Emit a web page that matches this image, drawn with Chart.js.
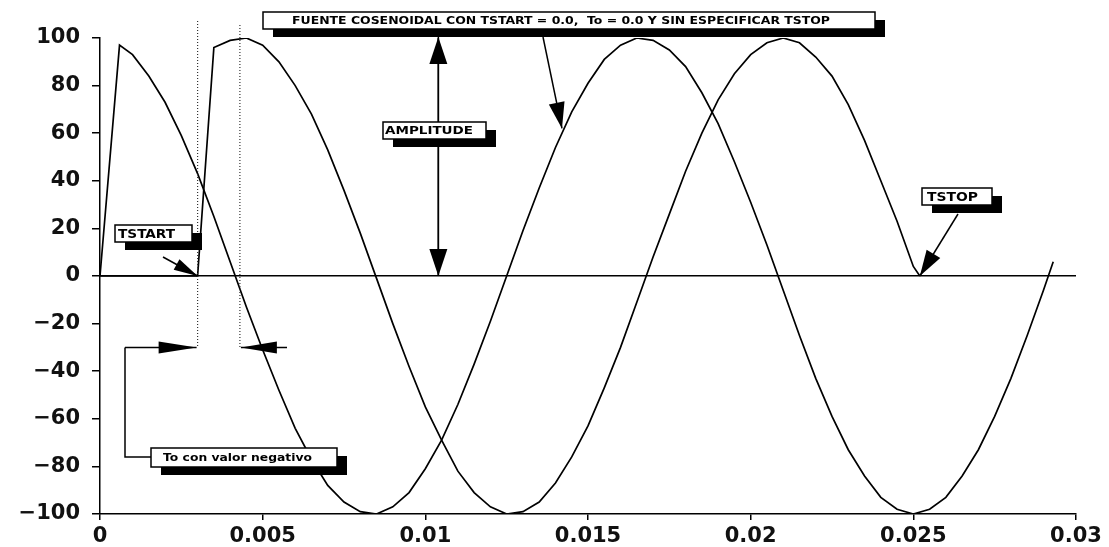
<!DOCTYPE html>
<html>
<head>
<meta charset="utf-8">
<script src="https://cdn.jsdelivr.net/npm/chart.js@4/dist/chart.umd.min.js"></script>
<style>
  html, body { margin: 0; padding: 0; background: #fff; }
  #wrap { width: 1109px; height: 547px; position: relative; }
</style>
</head>
<body>
<div id="wrap"><canvas id="chart"></canvas></div>
<script>
// tick marks
var xTicks = [0, 0.005, 0.01, 0.015, 0.02, 0.025, 0.03];
var xLabels = ['0', '0.005', '0.01', '0.015', '0.02', '0.025', '0.03'];
var yTicks = [-100, -80, -60, -40, -20, 0, 20, 40, 60, 80, 100];
var yLabels = ['\u2212100', '\u221280', '\u221260', '\u221240', '\u221220', '0', '20', '40', '60', '80', '100'];

// source 1: TSTART = 0, To = 0
var t1 = [0, 0.0006, 0.001, 0.0015, 0.002, 0.0025, 0.003, 0.0035, 0.004, 0.0045, 0.005, 0.0055, 0.006, 0.0065,
  0.007, 0.0075, 0.008, 0.0085, 0.009, 0.0095, 0.01, 0.0105, 0.011, 0.0115, 0.012, 0.0125, 0.013, 0.0135,
  0.014, 0.0145, 0.015, 0.0155, 0.016, 0.0165, 0.017, 0.0175, 0.018, 0.0185, 0.019, 0.0195, 0.02, 0.0205,
  0.021, 0.0215, 0.022, 0.0225, 0.023, 0.0235, 0.024, 0.0245, 0.025, 0.0255, 0.026, 0.0265, 0.027, 0.0275,
  0.028, 0.0285, 0.029, 0.0293];
var v1 = [0, 97, 93, 84, 73, 59, 43, 25, 6, -13, -31, -48, -64, -77, -88, -95, -99, -100, -97, -91, -81, -69,
  -54, -37, -19, 0, 19, 37, 54, 69, 81, 91, 97, 100, 99, 95, 88, 77, 64, 48, 31, 13, -6, -25, -43, -59, -73,
  -84, -93, -98, -100, -98, -93, -84, -73, -59, -43, -25, -6, 6];

// source 2: TSTART, negative To, TSTOP
var t2 = [0, 0.003, 0.0035, 0.004, 0.0045, 0.005, 0.0055, 0.006, 0.0065, 0.007, 0.0075, 0.008, 0.0085, 0.009,
  0.0095, 0.01, 0.0105, 0.011, 0.0115, 0.012, 0.0125, 0.013, 0.0135, 0.014, 0.0145, 0.015, 0.0155, 0.016,
  0.0165, 0.017, 0.0175, 0.018, 0.0185, 0.019, 0.0195, 0.02, 0.0205, 0.021, 0.0215, 0.022, 0.0225, 0.023,
  0.0235, 0.024, 0.0245, 0.025, 0.0252];
var v2 = [0, 0, 96, 99, 100, 97, 90, 80, 68, 53, 36, 18, -1, -20, -38, -55, -69, -82, -91, -97, -100, -99, -95,
  -87, -76, -63, -47, -30, -11, 8, 26, 44, 60, 74, 85, 93, 98, 100, 98, 92, 84, 72, 57, 40, 23, 4, 0];

function pts(ts, vs) {
  return ts.map(function(t, i) { return { x: t, y: vs[i] }; });
}

// white label box with black drop shadow, text stretched to tw pixels
function box(ctx, x, y, w, h, text, font, tx, tw) {
  ctx.fillStyle = '#000';
  ctx.fillRect(x + 10, y + 8, w, h);
  ctx.fillStyle = '#fff';
  ctx.fillRect(x, y, w, h);
  ctx.strokeStyle = '#000';
  ctx.lineWidth = 1.5;
  ctx.strokeRect(x, y, w, h);
  ctx.fillStyle = '#000';
  ctx.font = font;
  ctx.textBaseline = 'middle';
  ctx.textAlign = 'left';
  var mw = ctx.measureText(text).width;
  ctx.save();
  ctx.translate(x + tx, y + h / 2 + 1);
  ctx.scale(tw / mw, 1);
  ctx.fillText(text, 0, 0);
  ctx.restore();
}

function arrow(ctx, x0, y0, x1, y1, len, half) {
  var a = Math.atan2(y1 - y0, x1 - x0);
  ctx.strokeStyle = '#000';
  ctx.lineWidth = 1.5;
  ctx.beginPath();
  ctx.moveTo(x0, y0);
  ctx.lineTo(x1, y1);
  ctx.stroke();
  var bx = x1 - len * Math.cos(a), by = y1 - len * Math.sin(a);
  ctx.fillStyle = '#000';
  ctx.beginPath();
  ctx.moveTo(x1, y1);
  ctx.lineTo(bx + half * Math.sin(a), by - half * Math.cos(a));
  ctx.lineTo(bx - half * Math.sin(a), by + half * Math.cos(a));
  ctx.closePath();
  ctx.fill();
}

var notes = {
  id: 'notes',
  afterDatasetsDraw: function(chart) {
    var ctx = chart.ctx;
    var sx = chart.scales.x, sy = chart.scales.y;
    ctx.save();

    // dotted markers for TSTART and To
    ctx.strokeStyle = '#333';
    ctx.lineWidth = 1.2;
    ctx.setLineDash([1, 2]);
    [0.003, 0.0043].forEach(function(v, i) {
      var x = sx.getPixelForValue(v);
      ctx.beginPath();
      ctx.moveTo(x, i ? 25 : 21);
      ctx.lineTo(x, sy.getPixelForValue(-30));
      ctx.stroke();
    });
    ctx.setLineDash([]);

    // amplitude double arrow
    var ax = sx.getPixelForValue(0.0104);
    arrow(ctx, ax, sy.getPixelForValue(0), ax, sy.getPixelForValue(100) - 1, 27, 9);
    arrow(ctx, ax, sy.getPixelForValue(100), ax, sy.getPixelForValue(0), 27, 9);

    // title arrow to source 1
    arrow(ctx, 543, 37, sx.getPixelForValue(0.0142), sy.getPixelForValue(62), 26, 8);

    // TSTART / TSTOP arrows
    arrow(ctx, 163, 257, sx.getPixelForValue(0.003), sy.getPixelForValue(0), 24, 6);
    arrow(ctx, 958, 214, sx.getPixelForValue(0.0252), sy.getPixelForValue(0), 26, 8);

    // To bracket
    var by = sy.getPixelForValue(-30);
    ctx.strokeStyle = '#000';
    ctx.lineWidth = 1.5;
    ctx.beginPath();
    ctx.moveTo(151, 457);
    ctx.lineTo(125, 457);
    ctx.lineTo(125, by);
    ctx.stroke();
    arrow(ctx, 125, by, sx.getPixelForValue(0.003) - 1, by, 38, 6);
    arrow(ctx, 287, by, sx.getPixelForValue(0.0043) + 1, by, 36, 6);

    // labels
    box(ctx, 263, 12, 612, 17, 'FUENTE COSENOIDAL CON TSTART = 0.0,  To = 0.0 Y SIN ESPECIFICAR TSTOP',
      'bold 10px "DejaVu Sans Condensed", "DejaVu Sans"', 29, 538);
    box(ctx, 383, 122, 103, 17, 'AMPLITUDE', 'bold 11px "DejaVu Sans Condensed", "DejaVu Sans"', 2, 88);
    box(ctx, 115, 225, 77, 17, 'TSTART', 'bold 12px "DejaVu Sans Condensed", "DejaVu Sans"', 3, 57);
    box(ctx, 922, 188, 70, 17, 'TSTOP', 'bold 12px "DejaVu Sans Condensed", "DejaVu Sans"', 5, 51);
    box(ctx, 151, 448, 186, 19, 'To con valor negativo', 'bold 11px "DejaVu Sans"', 12, 149);
    ctx.restore();
  }
};

new Chart(document.getElementById('chart').getContext('2d'), {
  type: 'line',
  data: {
    datasets: [{
      label: 'TSTART = 0, To = 0',
      data: pts(t1, v1),
      borderColor: '#000',
      borderWidth: 1.7,
      pointRadius: 0,
      tension: 0,
      fill: false
    }, {
      label: 'To negativo, TSTOP',
      data: pts(t2, v2),
      borderColor: '#000',
      borderWidth: 1.7,
      pointRadius: 0,
      tension: 0,
      fill: false
    }]
  },
  options: {
    responsive: true,
    maintainAspectRatio: false,
    animation: false,
    layout: { padding: { top: 38, right: 33, left: 0, bottom: 0 } },
    plugins: { legend: { display: false }, tooltip: { enabled: false } },
    scales: {
      x: {
        type: 'linear',
        min: 0,
        max: 0.03,
        afterBuildTicks: function(s) { s.ticks = xTicks.map(function(v) { return { value: v }; }); },
        afterFit: function(s) { s.height = 33; s.paddingLeft = 0; s.paddingRight = 0; },
        ticks: {
          color: '#111',
          font: { family: '"DejaVu Sans"', size: 21, weight: 'bold' },
          padding: 4,
          maxRotation: 0,
          callback: function(v) { return xLabels[xTicks.indexOf(v)]; }
        },
        grid: { color: 'transparent', drawTicks: true, tickColor: '#000', tickLength: 6, lineWidth: 1.5 },
        border: { display: true, color: '#000', width: 1.5 }
      },
      y: {
        min: -100,
        max: 100,
        afterBuildTicks: function(s) { s.ticks = yTicks.map(function(v) { return { value: v }; }); },
        afterFit: function(s) { s.width = 100; s.paddingTop = 0; s.paddingBottom = 0; },
        ticks: {
          color: '#111',
          font: { family: '"DejaVu Sans"', size: 21, weight: 'bold' },
          padding: 12,
          callback: function(v) { return yLabels[yTicks.indexOf(v)]; }
        },
        grid: {
          color: function(c) { return c.tick && c.tick.value === 0 ? '#000' : 'transparent'; },
          lineWidth: 1.5,
          drawTicks: true,
          tickColor: '#000',
          tickLength: 8
        },
        border: { display: true, color: '#000', width: 1.5 }
      }
    }
  },
  plugins: [notes]
});
</script>
</body>
</html>
